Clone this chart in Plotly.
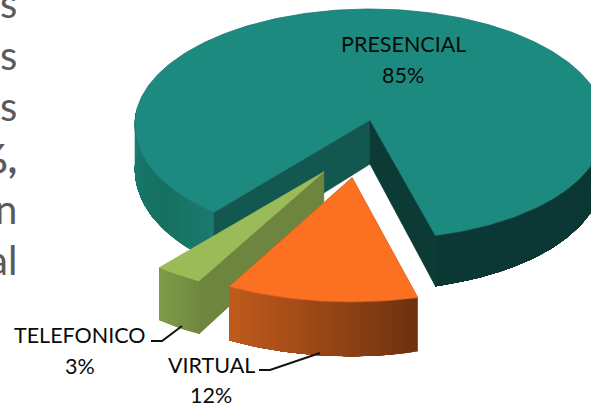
import math
import plotly.graph_objects as go

# Share of each service channel, in percent
categories = ["VIRTUAL", "TELEFONICO", "PRESENCIAL"]
shares = [12, 3, 85]

# Fragments of the paragraph that runs beside the chart
side_text = ["s", "s", "s", "<b>%,</b>", "n", "al"]
side_text_y = [3, 55, 106, 158, 209, 260]

# Projection of the tilted pie onto the page
WIDTH, HEIGHT = 591, 403
PIE_X, PIE_Y = 370, 120
RADIUS_X, RADIUS_Y = 235, 115.2
DEPTH_K = 0.038
NEAR_WIDEN = 0.04
WALL = 44
START_ANGLE = 165

# Displacement of each slice in the pie's own plane (across, towards the viewer)
explode = {"VIRTUAL": (-0.074, 0.49), "TELEFONICO": (-0.192, 0.444), "PRESENCIAL": (0, 0)}


def project(u, v, lift=0.0):
    s = 1 / (1 - DEPTH_K * v)
    near = max(min(v, 1.0), 0.0)
    widen = 1 + NEAR_WIDEN * near * near
    return PIE_X + RADIUS_X * u * s * widen, PIE_Y + RADIUS_Y * v * s + lift * WALL * (1 + 0.157 * v)


def rim(angle, off):
    a = math.radians(angle)
    return off[0] + math.sin(a), off[1] - math.cos(a)


def mix(c1, c2, t):
    a = [int(c1[i:i + 2], 16) for i in (1, 3, 5)]
    b = [int(c2[i:i + 2], 16) for i in (1, 3, 5)]
    return "#" + "".join(f"{round(p + (q - p) * t):02x}" for p, q in zip(a, b))


fig = go.Figure()


def polygon(points, color, edge=None, width=0.8):
    fig.add_trace(go.Scatter(
        x=[p[0] for p in points] + [points[0][0]],
        y=[p[1] for p in points] + [points[0][1]],
        mode="lines", fill="toself", fillcolor=color,
        line=dict(color=edge or color, width=width),
        hoverinfo="skip", showlegend=False,
    ))


def outer_wall(a0, a1, stops, off, steps=30):
    # Overlapping strips along the rim shade the curved side without visible seams
    for i in range(steps):
        p = a0 + (a1 - a0) * i / steps
        t = (i + 0.5) / steps * (len(stops) - 1)
        k = min(int(t), len(stops) - 2)
        col = mix(stops[k], stops[k + 1], t - k)
        n = steps - i
        arc = [rim(p + (a1 - a0) * j / steps, off) for j in range(n + 1)]
        top = [project(*r) for r in arc]
        bottom = [project(*r, 1) for r in reversed(arc)]
        polygon(top + bottom, col, width=0)


def cut_face(angle, off, color):
    r = rim(angle, off)
    polygon([project(*off), project(*r), project(*r, 1), project(*off, 1)], color)


def top_face(a0, a1, off, color, edge):
    n = max(int(abs(a1 - a0)), 2)
    pts = [project(*off)] + [project(*rim(a0 + (a1 - a0) * i / n, off)) for i in range(n + 1)]
    polygon(pts, color, edge)


# Slice angles follow from the shares, clockwise from the front-right cut
angles = {}
current = START_ANGLE
for name, share in zip(categories, shares):
    angles[name] = (current, current + share * 3.6)
    current += share * 3.6

# Large teal slice
a0, a1 = angles["PRESENCIAL"]
off = explode["PRESENCIAL"]
outer_wall(a0, 275, ["#1a7a70", "#15705f", "#17766a", "#1c8175"], off)
outer_wall(a1 - 360 - 90, a1 - 360, ["#0a3733", "#0b3834"], off, steps=40)
cut_face(a0, off, "#125850")
cut_face(a1, off, "#0c3b36")
top_face(a0, a1, off, "#1c8a7f", "#22727c")

# Narrow green slice
a0, a1 = angles["TELEFONICO"]
off = explode["TELEFONICO"]
cut_face(a0, off, "#6e853f")
outer_wall(a0, a1, ["#6f8a3f", "#7f9c49"], off, steps=8)
top_face(a0, a1, off, "#9bbb59", "#9bbb59")

# Orange slice
a0, a1 = angles["VIRTUAL"]
off = explode["VIRTUAL"]
outer_wall(a0, a1, ["#6b310f", "#8a4014", "#a84d18", "#bf5c1c"], off, steps=30)
top_face(a0, a1, off, "#fb7121", "#d8601c")

# Leader lines from the outside labels to their slices
fig.add_trace(go.Scatter(x=[151, 162, 182], y=[341, 341, 326], mode="lines",
                         line=dict(color="#111111", width=2), hoverinfo="skip", showlegend=False))
fig.add_trace(go.Scatter(x=[259, 270, 320], y=[370, 370, 353], mode="lines",
                         line=dict(color="#111111", width=2), hoverinfo="skip", showlegend=False))

# Slice labels
label_pos = {"PRESENCIAL": (403, 44, 75), "TELEFONICO": (80, 335, 366), "VIRTUAL": (211, 365, 395)}
annotations = []
for name, share in zip(categories, shares):
    x, y0, y1 = label_pos[name]
    for text, y in ((name, y0), (f"{share}%", y1)):
        annotations.append(dict(x=x, y=y, xref="x", yref="y", text=text, showarrow=False,
                                xanchor="center", yanchor="middle",
                                font=dict(family="Lato", size=21.5, color="#0a0a0a")))

# Paragraph fragments at the left edge of the page
for text, y in zip(side_text, side_text_y):
    annotations.append(dict(x=19, y=y, xref="x", yref="y", text=text, showarrow=False,
                            xanchor="right", yanchor="middle",
                            font=dict(family="Lato", size=40, color="#5a5a5a")))

fig.update_layout(
    width=WIDTH, height=HEIGHT,
    margin=dict(l=0, r=0, t=0, b=0),
    paper_bgcolor="white", plot_bgcolor="white",
    xaxis=dict(range=[0, WIDTH], visible=False, fixedrange=True),
    yaxis=dict(range=[HEIGHT, 0], visible=False, fixedrange=True),
    annotations=annotations,
    showlegend=False,
)

fig.write_html("out.html", config={"displayModeBar": False})
